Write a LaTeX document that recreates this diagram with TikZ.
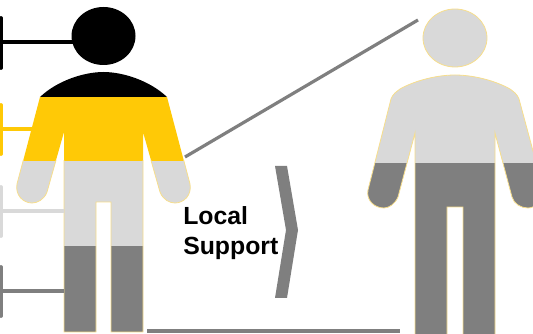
\documentclass[tikz,border=0pt]{standalone}
\usepackage{fontspec}
\setmainfont{Liberation Sans}
\definecolor{dk}{HTML}{7F7F7F}
\definecolor{lt}{HTML}{D9D9D9}
\definecolor{yl}{HTML}{FFC906}
\definecolor{yo}{HTML}{F7DE8C}
\tikzset{
  lead/.style={line width=2.6pt,line cap=butt},
  bar/.style={line width=2.8pt,line cap=round},
  link/.style={draw=dk,line width=2.4pt},
  outl/.style={draw=yo,line width=0.6pt},
  lab/.style={font=\bfseries\fontsize{18.6pt}{22.5pt}\selectfont,align=left,inner sep=0pt,anchor=north west}
}
\newcommand{\leftbody}{(40,97) .. controls (58,80) and (85,72) .. (103.5,72) .. controls (122,72) and (149,80) .. (167,97)
  -- (190,184) .. controls (192,195) and (184,203) .. (175,203) .. controls (170,203) and (163,200) .. (160,192)
  -- (143,132) -- (143,332) -- (111,332) -- (111,202) -- (96,202) -- (96,332) -- (64,332) -- (64,132)
  -- (47,192) .. controls (44,200) and (37,203) .. (32,203) .. controls (23,203) and (15,195) .. (17,184) -- cycle}
\newcommand{\rightbody}{(391,99) .. controls (393,94) and (396,92) .. (400,89) .. controls (416,80) and (438,75) .. (455,75) .. controls (472,75) and (494,80) .. (510,89) .. controls (514,92) and (517,94) .. (519,99)
  -- (543,188) .. controls (545,198) and (537,208) .. (528,208) .. controls (521,208) and (514,204) .. (512,197)
  -- (495,133) -- (495,340) -- (463,340) -- (463,207) -- (447,207) -- (447,340) -- (415,340) -- (415,133)
  -- (398,197) .. controls (395,204) and (389,208) .. (384,208) .. controls (374,208) and (366,200) .. (368,190) -- cycle}
\begin{document}
\begin{tikzpicture}[x=0.75pt,y=-0.75pt]
\useasboundingbox (0,0) rectangle (533,334);
\clip (0,0) rectangle (533,334);
% left figure
\fill[black] (103.5,36) ellipse [x radius=32,y radius=29];
\coordinate (headL) at (73,42);
\begin{scope}
  \clip \leftbody;
  \fill[black] (0,60) rectangle (200,97.5);
  \fill[yl] (0,97.5) rectangle (200,161);
  \fill[lt] (0,161) rectangle (200,246);
  \fill[dk] (0,246) rectangle (200,334);
\end{scope}
\begin{scope}
  \clip (0,161) rectangle (200,334);
  \draw[outl] \leftbody;
\end{scope}
% right figure
\filldraw[fill=lt,draw=yo,line width=0.6pt] (455,38) ellipse [x radius=32,y radius=29];
\begin{scope}
  \clip \rightbody;
  \fill[lt] (350,60) rectangle (560,163);
  \fill[dk] (350,163) rectangle (560,340);
\end{scope}
\draw[outl] \rightbody;
% leads
\coordinate (a0) at (1.2,18); \coordinate (a1) at (1.2,68); \coordinate (am) at (1.2,42);
\coordinate (b0) at (1.2,105); \coordinate (b1) at (1.2,154); \coordinate (bm) at (1.2,129); \coordinate (be) at (32,129);
\coordinate (c0) at (1.2,187); \coordinate (c1) at (1.2,236); \coordinate (cm) at (1.2,211); \coordinate (ce) at (64,211);
\coordinate (d0) at (1.2,267); \coordinate (d1) at (1.2,316); \coordinate (dm) at (1.2,291); \coordinate (de) at (64,291);
\draw[bar,black] (a0) -- (a1); \draw[lead,black] (am) -- (headL);
\draw[bar,yl] (b0) -- (b1); \draw[lead,yl] (bm) -- (be);
\draw[bar,lt] (c0) -- (c1); \draw[lead,lt] (cm) -- (ce);
\draw[bar,dk] (d0) -- (d1); \draw[lead,dk] (dm) -- (de);
% zoom lines
\coordinate (z1) at (185,157); \coordinate (z2) at (418,20);
\coordinate (z3) at (147,331); \coordinate (z4) at (400,331);
\draw[link] (z1) -- (z2);
\draw[link] (z3) -- (z4);
% chevron
\fill[dk] (275,166) -- (287,166) -- (298,230) -- (287,298) -- (275,298) -- (286,230) -- cycle;
% label
\node[lab] (label) at (183,206) {Local\\Support};
\end{tikzpicture}
\end{document}
